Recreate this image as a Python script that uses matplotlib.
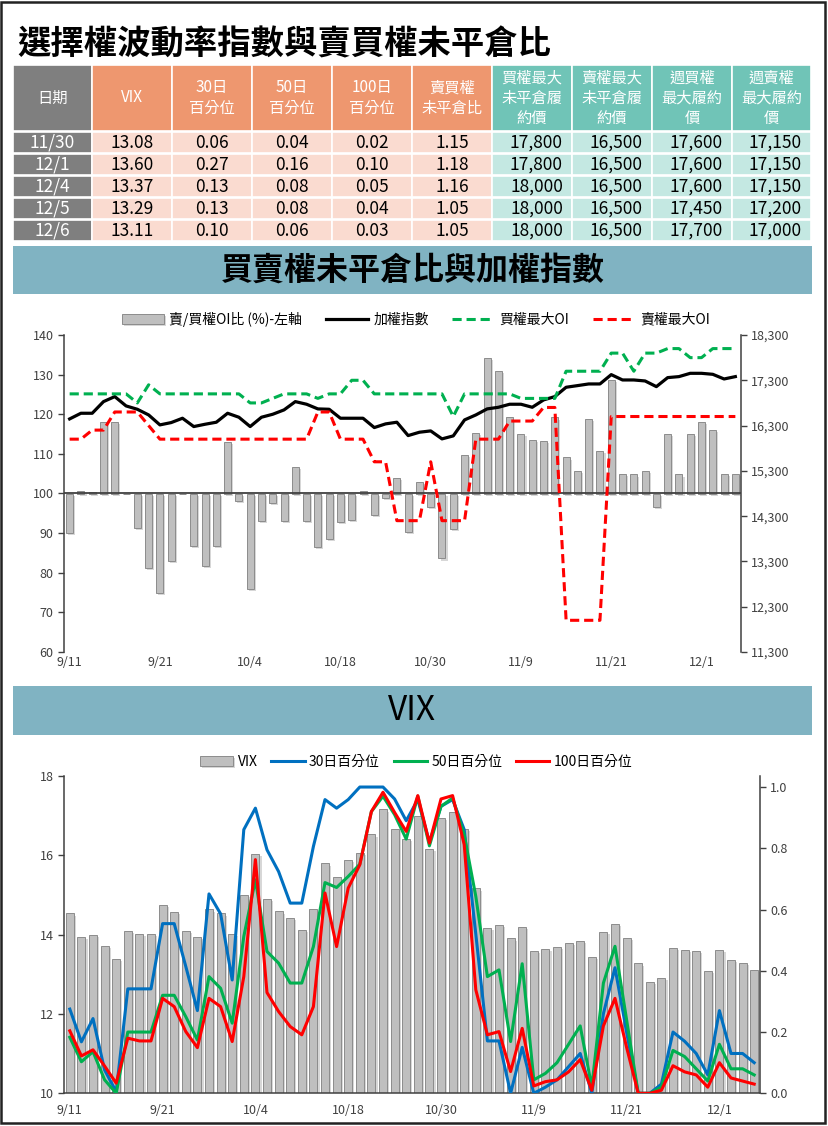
import matplotlib.pyplot as plt
import matplotlib.patheffects as pe
from matplotlib.patches import Rectangle
from matplotlib.ticker import FuncFormatter

plt.rcParams['font.family'] = ['Noto Sans CJK TC', 'DejaVu Sans']

# ---- data ----
dates = ['9/11', '9/12', '9/13', '9/14', '9/15', '9/18', '9/19', '9/20', '9/21', '9/22',
         '9/25', '9/26', '9/27', '9/28', '10/2', '10/3', '10/4', '10/5', '10/6', '10/11',
         '10/12', '10/13', '10/16', '10/17', '10/18', '10/19', '10/20', '10/23', '10/24', '10/25',
         '10/26', '10/27', '10/30', '10/31', '11/1', '11/2', '11/3', '11/6', '11/7', '11/8',
         '11/9', '11/10', '11/13', '11/14', '11/15', '11/16', '11/17', '11/20', '11/21', '11/22',
         '11/23', '11/24', '11/27', '11/28', '11/29', '11/30', '12/1', '12/4', '12/5', '12/6']
tick_every = 8

# 賣/買權OI比 (%)
oi_ratio = [90.0, 100.7, 100.3, 118.1, 118.1, 99.9, 91.3, 81.1, 75.0, 82.9,
            99.8, 86.8, 81.8, 86.8, 113.0, 98.2, 75.8, 93.1, 97.5, 93.1,
            106.7, 93.1, 86.6, 88.6, 92.9, 93.3, 100.7, 94.7, 98.9, 104.0,
            90.3, 102.9, 96.6, 83.6, 91.0, 109.8, 115.3, 134.2, 130.9, 119.2,
            115.1, 113.6, 113.3, 119.2, 109.1, 105.7, 118.7, 110.8, 128.6, 105.0,
            104.8, 105.7, 96.5, 115.1, 104.8, 115, 118, 116, 105, 105]
# 加權指數
taiex = [16447, 16572, 16572, 16829, 16940, 16734, 16660, 16535, 16315, 16366,
         16462, 16278, 16329, 16374, 16572, 16484, 16278, 16484, 16550, 16646,
         16829, 16771, 16668, 16660, 16462, 16462, 16462, 16256, 16337, 16374,
         16079, 16153, 16182, 16006, 16072, 16425, 16535, 16668, 16704, 16771,
         16771, 16704, 16866, 16940, 17146, 17182, 17219, 17219, 17425, 17307,
         17307, 17285, 17160, 17359, 17381, 17454, 17454, 17432, 17329, 17381]
# 買權最大OI
call_max_oi = [17000, 17000, 17000, 17000, 17000, 17000, 16800, 17200, 17000, 17000,
               17000, 17000, 17000, 17000, 17000, 17000, 16800, 16800, 16900, 17000,
               17000, 17000, 16900, 17000, 17000, 17300, 17300, 17000, 17000, 17000,
               17000, 17000, 17000, 17000, 16500, 17000, 17000, 17000, 17000, 17000,
               16900, 16900, 16900, 16900, 17500, 17500, 17500, 17500, 17900, 17900,
               17500, 17900, 17900, 18000, 18000, 17800, 17800, 18000, 18000, 18000]
# 賣權最大OI
put_max_oi = [16000, 16000, 16200, 16200, 16600, 16600, 16600, 16300, 16000, 16000,
              16000, 16000, 16000, 16000, 16000, 16000, 16000, 16000, 16000, 16000,
              16000, 16000, 16600, 16600, 16000, 16000, 16000, 15500, 15500, 14200,
              14200, 14200, 15500, 14200, 14200, 14200, 16000, 16000, 16000, 16400,
              16400, 16400, 16700, 16700, 12000, 12000, 12000, 12000, 16500, 16500,
              16500, 16500, 16500, 16500, 16500, 16500, 16500, 16500, 16500, 16500]

vix = [14.53, 13.93, 13.98, 13.72, 13.38, 14.08, 14.01, 14.01, 14.74, 14.56,
       14.08, 13.93, 14.63, 14.53, 14.01, 14.99, 16.02, 14.89, 14.58, 14.41,
       14.11, 14.63, 15.79, 15.45, 15.88, 16.05, 16.52, 17.15, 16.65, 16.40,
       16.99, 16.15, 16.93, 17.08, 16.65, 15.16, 14.16, 14.23, 13.90, 14.18,
       13.58, 13.63, 13.68, 13.78, 13.83, 13.43, 14.06, 14.27, 13.92, 13.27,
       12.80, 12.90, 13.65, 13.60, 13.58, 13.08, 13.60, 13.37, 13.29, 13.11]
pct30 = [0.275, 0.168, 0.244, 0.076, 0.005, 0.341, 0.341, 0.341, 0.554, 0.554,
         0.414, 0.270, 0.651, 0.586, 0.370, 0.861, 0.931, 0.795, 0.724, 0.621,
         0.621, 0.806, 0.959, 0.931, 0.959, 1.0, 1.0, 1.0, 0.961, 0.890,
         0.959, 0.82, 0.937, 0.959, 0.861, 0.52, 0.171, 0.171, 0.0, 0.15,
         0.0, 0.02, 0.044, 0.087, 0.13, 0.0, 0.26, 0.41, 0.2, 0.0,
         0.0, 0.03, 0.20, 0.17, 0.13, 0.06, 0.27, 0.13, 0.13, 0.10]
pct50 = [0.183, 0.103, 0.136, 0.044, 0.0, 0.20, 0.20, 0.20, 0.32, 0.32,
         0.25, 0.174, 0.381, 0.343, 0.229, 0.512, 0.697, 0.463, 0.425, 0.36,
         0.36, 0.479, 0.688, 0.672, 0.708, 0.748, 0.92, 0.97, 0.91, 0.83,
         0.97, 0.808, 0.937, 0.964, 0.844, 0.643, 0.381, 0.403, 0.169, 0.423,
         0.044, 0.065, 0.10, 0.16, 0.22, 0.02, 0.36, 0.48, 0.24, 0.0,
         0.0, 0.02, 0.14, 0.12, 0.08, 0.04, 0.16, 0.08, 0.08, 0.06]
pct100 = [0.204, 0.122, 0.142, 0.089, 0.033, 0.18, 0.171, 0.171, 0.31, 0.283,
          0.2015, 0.149, 0.31, 0.283, 0.169, 0.381, 0.763, 0.329, 0.267, 0.218,
          0.191, 0.283, 0.654, 0.479, 0.67, 0.746, 0.92, 0.983, 0.917, 0.855,
          0.972, 0.817, 0.961, 0.972, 0.812, 0.338, 0.191, 0.2015, 0.071, 0.212,
          0.024, 0.038, 0.044, 0.07, 0.11, 0.01, 0.22, 0.31, 0.15, 0.0,
          0.0, 0.01, 0.09, 0.07, 0.06, 0.02, 0.10, 0.05, 0.04, 0.03]

# table
tbl_dates = ['11/30', '12/1', '12/4', '12/5', '12/6']
tbl_vix = [13.08, 13.60, 13.37, 13.29, 13.11]
tbl_p30 = [0.06, 0.27, 0.13, 0.13, 0.10]
tbl_p50 = [0.04, 0.16, 0.08, 0.08, 0.06]
tbl_p100 = [0.02, 0.10, 0.05, 0.04, 0.03]
tbl_pc = [1.15, 1.18, 1.16, 1.05, 1.05]
tbl_call_max = [17800, 17800, 18000, 18000, 18000]
tbl_put_max = [16500, 16500, 16500, 16500, 16500]
tbl_wk_call = [17600, 17600, 17600, 17450, 17700]
tbl_wk_put = [17150, 17150, 17150, 17200, 17000]
tbl_headers = ['日期', 'VIX', '30日\n百分位', '50日\n百分位', '100日\n百分位', '賣買權\n未平倉比',
               '買權最大\n未平倉履\n約價', '賣權最大\n未平倉履\n約價', '週買權\n最大履約\n價', '週賣權\n最大履約\n價']

GRAY_HDR = '#7F7F7F'
ORANGE_HDR = '#EE976F'
ORANGE_LT = '#FADBD0'
TEAL_HDR = '#70C4B7'
TEAL_LT = '#C4E8E2'
BANNER = '#80B3C2'
TXT = '#404040'

W, H = 829, 1126
fig = plt.figure(figsize=(W / 100, H / 100), dpi=100)
bg = fig.add_axes([0, 0, 1, 1])
bg.set_xlim(0, W)
bg.set_ylim(H, 0)
bg.axis('off')

bg.add_patch(Rectangle((1.5, 1.5), 824, 1121, fill=False, edgecolor='#222222', lw=1.8))
bg.text(17, 45, '選擇權波動率指數與賣買權未平倉比', fontsize=24, fontweight='bold',
        va='center', ha='left', color='black')

# table
col_edges = [13, 92, 172, 252, 332, 412, 492, 572, 652, 732, 811]
hdr_top, hdr_bot = 65, 131
row_tops = [132, 154, 176, 198, 220]
row_h = 21
hdr_colors = [GRAY_HDR] + [ORANGE_HDR] * 5 + [TEAL_HDR] * 4
body_colors = [GRAY_HDR] + [ORANGE_LT] * 5 + [TEAL_LT] * 4
columns = [tbl_dates,
           ['%.2f' % v for v in tbl_vix],
           ['%.2f' % v for v in tbl_p30],
           ['%.2f' % v for v in tbl_p50],
           ['%.2f' % v for v in tbl_p100],
           ['%.2f' % v for v in tbl_pc],
           ['{:,}'.format(v) for v in tbl_call_max],
           ['{:,}'.format(v) for v in tbl_put_max],
           ['{:,}'.format(v) for v in tbl_wk_call],
           ['{:,}'.format(v) for v in tbl_wk_put]]
for c in range(10):
    x0, x1 = col_edges[c], col_edges[c + 1]
    bg.add_patch(Rectangle((x0, hdr_top), x1 - x0, hdr_bot - hdr_top, facecolor=hdr_colors[c],
                           edgecolor='white', lw=1.2))
    bg.text((x0 + x1) / 2, (hdr_top + hdr_bot) / 2, tbl_headers[c], color='white', fontsize=11,
            ha='center', va='center', linespacing=1.25)
    for r in range(5):
        y0 = row_tops[r]
        bg.add_patch(Rectangle((x0, y0), x1 - x0, row_h, facecolor=body_colors[c],
                               edgecolor='white', lw=1.2))
        if c == 0:
            bg.text((x0 + x1) / 2, y0 + row_h / 2, columns[c][r], color='white', fontsize=12.5,
                    ha='center', va='center')
        elif c < 6:
            bg.text((x0 + x1) / 2, y0 + row_h / 2, columns[c][r], color='black', fontsize=12.5,
                    ha='center', va='center')
        else:
            bg.text(x1 - 9, y0 + row_h / 2, columns[c][r], color='black', fontsize=12.5,
                    ha='right', va='center')

# banners
bg.add_patch(Rectangle((13, 246), 799, 48, facecolor=BANNER, edgecolor='none'))
bg.text(413, 271, '買賣權未平倉比與加權指數', fontsize=23, fontweight='bold', ha='center', va='center')
bg.add_patch(Rectangle((13, 686), 799, 49, facecolor=BANNER, edgecolor='none'))
bg.text(412, 711, 'VIX', fontsize=24, ha='center', va='center')

x = list(range(len(dates)))
tick_pos = x[::tick_every]
tick_lab = dates[::tick_every]
bar_fx = [pe.SimplePatchShadow(offset=(1.5, -1.5), shadow_rgbFace='#b0b0b0', alpha=0.5), pe.Normal()]


def style_axis(ax, which):
    for s in ['top', 'bottom', 'left', 'right']:
        ax.spines[s].set_visible(False)
    for s in which:
        ax.spines[s].set_visible(True)
        ax.spines[s].set_color(TXT)
        ax.spines[s].set_linewidth(1.1)
    ax.tick_params(axis='y', colors=TXT, labelsize=9, length=4, width=1, direction='out')
    ax.patch.set_alpha(0)


# ---- chart 1 ----
ax1 = fig.add_axes([64 / W, 1 - 652 / H, (741 - 64) / W, (652 - 335) / H])
b1 = ax1.bar(x, [v - 100 for v in oi_ratio], bottom=100, width=0.62, color='#BFBFBF',
             edgecolor='#8C8C8C', lw=0.7, label='賣/買權OI比 (%)-左軸')
for b in b1:
    b.set_path_effects(bar_fx)
ax1.axhline(100, color=TXT, lw=1.3, zorder=3)
ax1.set_xlim(-0.5, len(x) - 0.5)
ax1.set_ylim(60, 140)
ax1.set_yticks(range(60, 141, 10))
ax1.set_xticks(tick_pos)
ax1.set_xticklabels(tick_lab)
ax1.tick_params(axis='x', length=0, pad=3, labelsize=9, colors=TXT)
style_axis(ax1, ['left'])

ax1r = ax1.twinx()
l1, = ax1r.plot(x, taiex, color='black', lw=2.3, label='加權指數')
l2, = ax1r.plot(x, call_max_oi, color='#00B050', lw=2.2, dashes=(3, 1.6), label='買權最大OI')
l3, = ax1r.plot(x, put_max_oi, color='#FF0000', lw=2.2, dashes=(3, 1.6), label='賣權最大OI')
ax1r.set_ylim(11300, 18300)
ax1r.set_yticks(range(11300, 18301, 1000))
ax1r.yaxis.set_major_formatter(FuncFormatter(lambda v, p: '{:,.0f}'.format(v)))
style_axis(ax1r, ['right'])
ax1r.legend([b1, l1, l2, l3], [b1.get_label(), '加權指數', '買權最大OI', '賣權最大OI'],
            loc='center', bbox_to_anchor=(0.52, 1.05), ncol=4, frameon=False, fontsize=10,
            handlelength=3, handleheight=0.7, columnspacing=1.7, handletextpad=0.4)

# ---- chart 2 ----
ax2 = fig.add_axes([64 / W, 1 - 1093.3 / H, (760 - 64) / W, (1093.3 - 775.7) / H])
b2 = ax2.bar(x, vix, width=0.7, color='#BFBFBF', edgecolor='#8C8C8C', lw=0.7, label='VIX')
for b in b2:
    b.set_path_effects(bar_fx)
ax2.set_xlim(-0.5, len(x) - 0.5)
ax2.set_ylim(10, 18)
ax2.set_yticks(range(10, 19, 2))
ax2.set_xticks(tick_pos)
ax2.set_xticklabels(tick_lab)
ax2.tick_params(axis='x', length=0, pad=8, labelsize=9, colors=TXT)
style_axis(ax2, ['left', 'bottom'])

ax2r = ax2.twinx()
m1, = ax2r.plot(x, pct30, color='#0070C0', lw=2.2, label='30日百分位')
m2, = ax2r.plot(x, pct50, color='#00B050', lw=2.2, label='50日百分位')
m3, = ax2r.plot(x, pct100, color='#FF0000', lw=2.2, label='100日百分位')
ax2r.set_ylim(0, 1.037)
ax2r.set_yticks([0, 0.2, 0.4, 0.6, 0.8, 1.0])
ax2r.yaxis.set_major_formatter(FuncFormatter(lambda v, p: '%.1f' % v))
style_axis(ax2r, ['right'])
ax2r.legend([b2, m1, m2, m3], ['VIX', '30日百分位', '50日百分位', '100日百分位'],
            loc='center', bbox_to_anchor=(0.506, 1.043), ncol=4, frameon=False, fontsize=10,
            handlelength=2.4, handleheight=0.7, columnspacing=1.0, handletextpad=0.3)

fig.savefig('out.png', dpi=100)
